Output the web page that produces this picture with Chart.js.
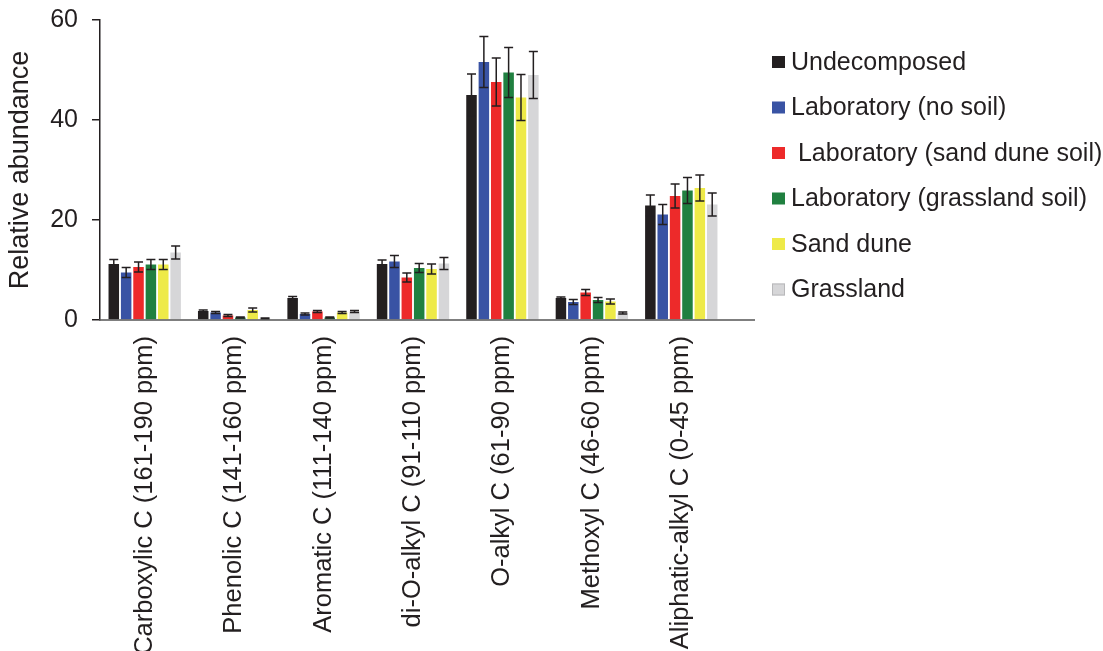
<!DOCTYPE html>
<html>
<head>
<meta charset="utf-8">
<script src="https://cdn.jsdelivr.net/npm/chart.js@4.4.1/dist/chart.umd.min.js"></script>
<style>
  html, body { margin: 0; padding: 0; background: #fff; }
  #wrap { width: 1103px; height: 651px; position: relative; }
</style>
</head>
<body>
<div id="wrap"><canvas id="nmrChart"></canvas></div>
<script>
const categories = [
    'Carboxylic C (161-190 ppm)',
    'Phenolic C (141-160 ppm)',
    'Aromatic C (111-140 ppm)',
    'di-O-alkyl C (91-110 ppm)',
    'O-alkyl C (61-90 ppm)',
    'Methoxyl C (46-60 ppm)',
    'Aliphatic-alkyl C (0-45 ppm)'
];
const seriesNames = [
    'Undecomposed',
    'Laboratory (no soil)',
    ' Laboratory (sand dune soil)',
    'Laboratory (grassland soil)',
    'Sand dune',
    'Grassland'
];
const undecomposed = [11.2, 1.8, 4.4, 11.2, 45.0, 4.4, 22.9];
const labNoSoil    = [9.5, 1.5, 1.2, 11.7, 51.6, 3.6, 21.1];
const labSandDune  = [10.6, 0.9, 1.7, 8.5, 47.6, 5.5, 24.8];
const labGrassland = [11.1, 0.5, 0.5, 10.4, 49.5, 4.0, 25.9];
const sandDune     = [11.1, 2.0, 1.5, 10.2, 44.5, 3.7, 26.4];
const grassland    = [13.5, 0.3, 1.7, 11.3, 49.0, 1.4, 23.1];

const errUndecomposed = [0.9, 0.2, 0.3, 0.8, 4.2, 0.2, 2.1];
const errLabNoSoil    = [1.0, 0.2, 0.2, 1.2, 5.1, 0.5, 2.0];
const errLabSandDune  = [1.0, 0.2, 0.2, 0.9, 4.8, 0.6, 2.4];
const errLabGrassland = [1.0, 0.1, 0.1, 0.9, 5.0, 0.5, 2.6];
const errSandDune     = [1.0, 0.4, 0.2, 1.0, 4.6, 0.5, 2.6];
const errGrassland    = [1.3, 0.1, 0.2, 1.2, 4.7, 0.2, 2.3];

const yTicks = [0, 20, 40, 60];

const colors = ['#231f20', '#3953a4', '#ed2a2a', '#208040', '#eeea48', '#d6d6d8'];
const values = [undecomposed, labNoSoil, labSandDune, labGrassland, sandDune, grassland];
const errors = [errUndecomposed, errLabNoSoil, errLabSandDune, errLabGrassland, errSandDune, errGrassland];

const FONT = '"Liberation Sans", Arial, Helvetica, sans-serif';
const INK = '#231f20';

// error bars + extended baseline + legend on the right
const extras = {
    id: 'extras',
    afterDatasetsDraw(chart) {
        const ctx = chart.ctx;
        const y = chart.scales.y;
        ctx.save();
        ctx.strokeStyle = INK;
        ctx.lineWidth = 1.5;
        chart.data.datasets.forEach((ds, di) => {
            const meta = chart.getDatasetMeta(di);
            meta.data.forEach((bar, i) => {
                const v = ds.data[i], e = ds.errors[i];
                const yTop = y.getPixelForValue(v + e);
                const yBot = y.getPixelForValue(Math.max(v - e, 0));
                ctx.beginPath();
                ctx.moveTo(bar.x, yTop); ctx.lineTo(bar.x, yBot);
                ctx.moveTo(bar.x - 4.5, yTop); ctx.lineTo(bar.x + 4.5, yTop);
                ctx.moveTo(bar.x - 4.5, yBot); ctx.lineTo(bar.x + 4.5, yBot);
                ctx.stroke();
            });
        });
        // x axis line runs a little past the last group
        const y0 = y.getPixelForValue(0);
        ctx.strokeStyle = '#555';
        ctx.lineWidth = 1.5;
        ctx.beginPath();
        ctx.moveTo(chart.chartArea.left - 1, y0);
        ctx.lineTo(chart.chartArea.right + 29, y0);
        ctx.stroke();
        ctx.restore();
    },
    afterDraw(chart) {
        const ctx = chart.ctx;
        const rows = [62, 107.5, 153, 198.5, 244, 289.5];
        ctx.save();
        ctx.font = '25px ' + FONT;
        ctx.textBaseline = 'middle';
        ctx.textAlign = 'left';
        chart.data.datasets.forEach((ds, i) => {
            ctx.fillStyle = ds.backgroundColor;
            ctx.fillRect(772, rows[i] - 6, 13, 12);
            if (i === 5) {
                ctx.strokeStyle = '#b8b8ba';
                ctx.lineWidth = 1;
                ctx.strokeRect(772.5, rows[i] - 5.5, 12, 11);
            }
            ctx.fillStyle = INK;
            ctx.fillText(ds.label, 791, rows[i] + 1);
        });
        ctx.restore();
    }
};

new Chart(document.getElementById('nmrChart'), {
    type: 'bar',
    data: {
        labels: categories,
        datasets: seriesNames.map((name, i) => ({
            label: name,
            data: values[i],
            errors: errors[i],
            backgroundColor: colors[i],
            borderWidth: 0,
            categoryPercentage: 0.83,
            barPercentage: 0.85
        }))
    },
    options: {
        responsive: true,
        maintainAspectRatio: false,
        animation: false,
        layout: {
            padding: { top: 10, right: 377, left: 0, bottom: 0 }
        },
        plugins: {
            legend: { display: false },
            tooltip: { enabled: false }
        },
        scales: {
            x: {
                grid: { display: false },
                border: { display: false },
                ticks: {
                    color: INK,
                    font: { family: FONT, size: 25.5 },
                    minRotation: 90,
                    maxRotation: 90,
                    autoSkip: false,
                    padding: 8
                },
                afterFit(scale) { scale.height = 331; }
            },
            y: {
                min: 0,
                max: 60,
                afterBuildTicks(scale) {
                    scale.ticks = yTicks.map(v => ({ value: v }));
                },
                grid: {
                    drawOnChartArea: false,
                    drawTicks: true,
                    tickLength: 8,
                    color: INK,
                    lineWidth: 1.5
                },
                border: { display: true, color: INK, width: 1.5 },
                ticks: {
                    color: INK,
                    font: { family: FONT, size: 25, lineHeight: 0.48 },
                    padding: 14
                },
                title: {
                    display: true,
                    text: 'Relative abundance',
                    color: INK,
                    font: { family: FONT, size: 27 },
                    padding: { top: 4, bottom: 0 }
                },
                afterFit(scale) { scale.width = 100; }
            }
        }
    },
    plugins: [extras]
});
</script>
</body>
</html>
